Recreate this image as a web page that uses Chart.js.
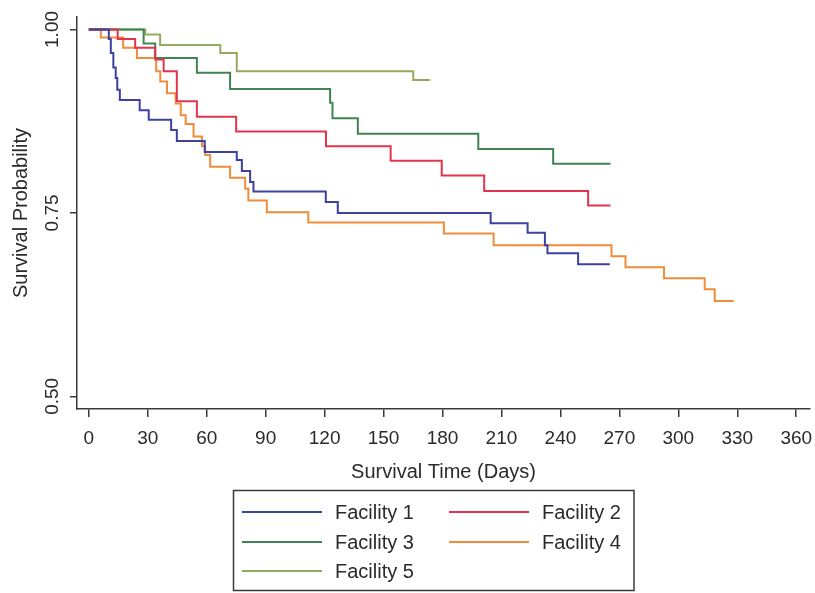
<!DOCTYPE html>
<html>
<head>
<meta charset="utf-8">
<script src="https://cdn.jsdelivr.net/npm/chart.js@4.4.1/dist/chart.umd.min.js"></script>
<style>
  html, body { margin: 0; padding: 0; background: #ffffff; }
  #wrap { width: 815px; height: 593px; position: relative; }
</style>
</head>
<body>
<div id="wrap"><canvas id="c" width="815" height="593"></canvas></div>
<script>
// ---- Data ----
const seriesLabels = ['Facility 1', 'Facility 2', 'Facility 3', 'Facility 4', 'Facility 5'];
const seriesColors = ['#3d41a0', '#e3344e', '#3f8452', '#f08c3a', '#93ab5c'];

const fac1Days = [0, 10.2, 11.2, 12.5, 13.7, 14.5, 15.8, 25.9, 30.5, 41.9, 44.8, 59.0, 75.3, 77.9, 82.1, 83.8, 120.6, 126.7, 204.5, 223.3, 232.1, 233.4, 249.0, 265.1];
const fac1Surv = [1.000, 0.987, 0.968, 0.948, 0.934, 0.918, 0.904, 0.890, 0.877, 0.863, 0.848, 0.833, 0.822, 0.807, 0.792, 0.779, 0.765, 0.750, 0.736, 0.723, 0.706, 0.695, 0.680, 0.680];

const fac2Days = [0, 14.7, 23.6, 33.8, 38.1, 44.8, 55.0, 75.0, 120.7, 153.6, 179.6, 201.2, 254.1, 265.5];
const fac2Surv = [1.000, 0.987, 0.975, 0.959, 0.943, 0.902, 0.881, 0.861, 0.841, 0.821, 0.801, 0.780, 0.760, 0.760];

const fac3Days = [0, 27.9, 33.8, 55.0, 71.9, 122.8, 124.0, 136.9, 198.2, 236.3, 265.5];
const fac3Surv = [1.000, 0.981, 0.961, 0.941, 0.919, 0.900, 0.879, 0.858, 0.837, 0.817, 0.817];

const fac4Days = [0, 6.1, 17.5, 24.5, 34.3, 36.4, 39.8, 44.2, 46.8, 49.3, 53.3, 57.6, 59.2, 61.8, 71.9, 79.6, 81.2, 90.6, 111.7, 180.7, 206.0, 266.0, 273.1, 292.7, 313.4, 318.5, 328.2];
const fac4Surv = [1.000, 0.989, 0.975, 0.961, 0.943, 0.929, 0.913, 0.899, 0.883, 0.871, 0.854, 0.841, 0.829, 0.813, 0.798, 0.783, 0.767, 0.751, 0.737, 0.722, 0.706, 0.691, 0.676, 0.661, 0.646, 0.630, 0.630];

const fac5Days = [0, 28.7, 36.3, 66.9, 75.3, 165.1, 173.6];
const fac5Surv = [1.000, 0.993, 0.979, 0.968, 0.943, 0.931, 0.931];

const xTickValues = [0, 30, 60, 90, 120, 150, 180, 210, 240, 270, 300, 330, 360];
const yTickValues = [0.50, 0.75, 1.00];

const xTitle = 'Survival Time (Days)';
const yTitle = 'Survival Probability';

// ---- Build datasets ----
const allDays = [fac1Days, fac2Days, fac3Days, fac4Days, fac5Days];
const allSurv = [fac1Surv, fac2Surv, fac3Surv, fac4Surv, fac5Surv];

const datasets = seriesLabels.map((lab, i) => ({
  label: lab,
  data: allDays[i].map((d, j) => ({ x: d, y: allSurv[i][j] })),
  borderColor: seriesColors[i],
  backgroundColor: seriesColors[i],
  borderWidth: 2,
  pointRadius: 0,
  fill: false,
  stepped: 'before',
  tension: 0
}));

const FONT = "'Liberation Sans', Arial, Helvetica, sans-serif";
const AXIS = '#3a3a3a';
const TEXT = '#2a2a2a';

// custom boxed legend, two columns, drawn from the datasets
const boxedLegend = {
  id: 'boxedLegend',
  afterDraw(chart) {
    const ctx = chart.ctx;
    const bx = 233.5, by = 490.5, bw = 400.5, bh = 100;
    ctx.save();
    ctx.strokeStyle = AXIS;
    ctx.lineWidth = 1.5;
    ctx.strokeRect(bx, by, bw, bh);
    const colX = [242, 449];
    const rowY = [512, 542, 571];
    ctx.font = '20px ' + FONT;
    ctx.textBaseline = 'middle';
    ctx.textAlign = 'left';
    chart.data.datasets.forEach((ds, i) => {
      const cx = colX[i % 2];
      const cy = rowY[Math.floor(i / 2)];
      ctx.strokeStyle = ds.borderColor;
      ctx.lineWidth = 2;
      ctx.beginPath();
      ctx.moveTo(cx, cy);
      ctx.lineTo(cx + 80, cy);
      ctx.stroke();
      ctx.fillStyle = TEXT;
      ctx.fillText(ds.label, cx + 93, cy + 1);
    });
    ctx.restore();
  }
};

new Chart(document.getElementById('c'), {
  type: 'line',
  data: { datasets },
  plugins: [boxedLegend],
  options: {
    responsive: false,
    animation: false,
    layout: { padding: { left: 0, right: 5, top: 17, bottom: 593 - 409 - 74 } },
    plugins: {
      legend: { display: false },
      tooltip: { enabled: false }
    },
    scales: {
      x: {
        type: 'linear',
        min: -6,
        max: 367,
        afterBuildTicks: (s) => { s.ticks = xTickValues.map(v => ({ value: v })); },
        afterFit: (s) => { s.height = 74; s.paddingLeft = 0; s.paddingRight = 0; },
        grid: { drawOnChartArea: false, drawTicks: true, tickLength: 8, color: AXIS, lineWidth: 1.5 },
        border: { display: true, color: AXIS, width: 1.5 },
        ticks: {
          color: TEXT,
          font: { family: FONT, size: 19 },
          padding: 10,
          maxRotation: 0,
          autoSkip: false,
          callback: (v) => String(v)
        },
        title: {
          display: true,
          text: xTitle,
          color: TEXT,
          font: { family: FONT, size: 20 },
          padding: { top: 0, bottom: -1 }
        }
      },
      y: {
        type: 'linear',
        min: 0.4827,
        max: 1.017,
        afterBuildTicks: (s) => { s.ticks = yTickValues.map(v => ({ value: v })); },
        afterFit: (s) => { s.width = 77; s.paddingTop = 0; s.paddingBottom = 0; },
        grid: { drawOnChartArea: false, drawTicks: true, tickLength: 7, color: AXIS, lineWidth: 1.5 },
        border: { display: true, color: AXIS, width: 1.5 },
        ticks: {
          color: TEXT,
          font: { family: FONT, size: 19 },
          minRotation: 90,
          maxRotation: 90,
          crossAlign: 'center',
          padding: -1,
          autoSkip: false,
          callback: (v) => Number(v).toFixed(2)
        },
        title: {
          display: true,
          text: yTitle,
          color: TEXT,
          font: { family: FONT, size: 20 },
          padding: { top: 9, bottom: 0 }
        }
      }
    }
  }
});
</script>
</body>
</html>
